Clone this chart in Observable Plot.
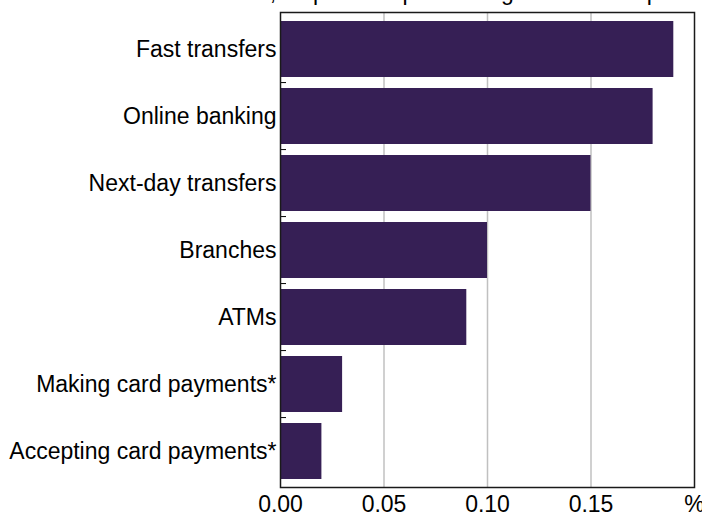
<!DOCTYPE html>
<html>
<head>
<meta charset="utf-8">
<script src="https://cdn.jsdelivr.net/npm/d3@7"></script>
<script src="https://cdn.jsdelivr.net/npm/@observablehq/plot@0.6"></script>
<style>
  html, body { margin: 0; padding: 0; background: #fff; overflow: hidden; }
  body { width: 702px; height: 516px; position: relative; font-family: "Liberation Sans", Arial, sans-serif; }
  #title { position: absolute; left: 184px; top: -19px; font-size: 23px; line-height: 23px; white-space: nowrap; color: #000; z-index: 2; }
  #chart { position: absolute; left: 0; top: 0; z-index: 1; }
</style>
</head>
<body>
<div id="title">Per cent, as per cent processing hours in the period</div>
<div id="chart"></div>
<script>
const categories = [
  "Fast transfers",
  "Online banking",
  "Next-day transfers",
  "Branches",
  "ATMs",
  "Making card payments*",
  "Accepting card payments*"
];
const values = [0.19, 0.18, 0.15, 0.10, 0.09, 0.03, 0.02];
const xTicks = [0, 0.05, 0.10, 0.15, 0.20];
const xTickLabels = ["0.00", "0.05", "0.10", "0.15", "%"];
const gridTicks = [0.05, 0.10, 0.15];

const data = categories.map((c, i) => ({category: c, value: values[i]}));

const W = 702, H = 516;
const mTop = 12, mBottom = 29, mLeft = 280, mRight = 8;
const step = (H - mTop - mBottom) / categories.length;

const chart = Plot.plot({
  width: W,
  height: H,
  marginTop: mTop,
  marginBottom: mBottom,
  marginLeft: mLeft,
  marginRight: mRight,
  style: {fontFamily: "'Liberation Sans', Arial, sans-serif", fontSize: "23px", color: "#000", background: "#fff"},
  x: {domain: [0, 0.2]},
  y: {domain: categories, paddingInner: 0.17, paddingOuter: 0.085},
  marks: [
    Plot.ruleX(gridTicks, {stroke: "#c0c0c0", strokeWidth: 1.5}),
    Plot.barX(data, {y: "category", x: "value", fill: "#361f55"}),
    Plot.axisX({
      ticks: xTicks,
      tickFormat: (d) => xTickLabels[xTicks.indexOf(d)],
      tickSize: 0,
      tickPadding: 8,
      label: null,
      fontSize: 23,
      fill: "#000"
    }),
    Plot.axisY({
      tickSize: 0,
      tickPadding: 4,
      label: null,
      fontSize: 23,
      fill: "#000"
    }),
    Plot.axisY({
      ticks: categories.slice(1),
      tickSize: -6,
      text: null,
      label: null,
      stroke: "#000",
      strokeWidth: 1,
      dy: -step / 2
    }),
    Plot.frame({stroke: "#1a1a1a", strokeWidth: 1.5})
  ]
});
document.getElementById("chart").appendChild(chart);
</script>
</body>
</html>
